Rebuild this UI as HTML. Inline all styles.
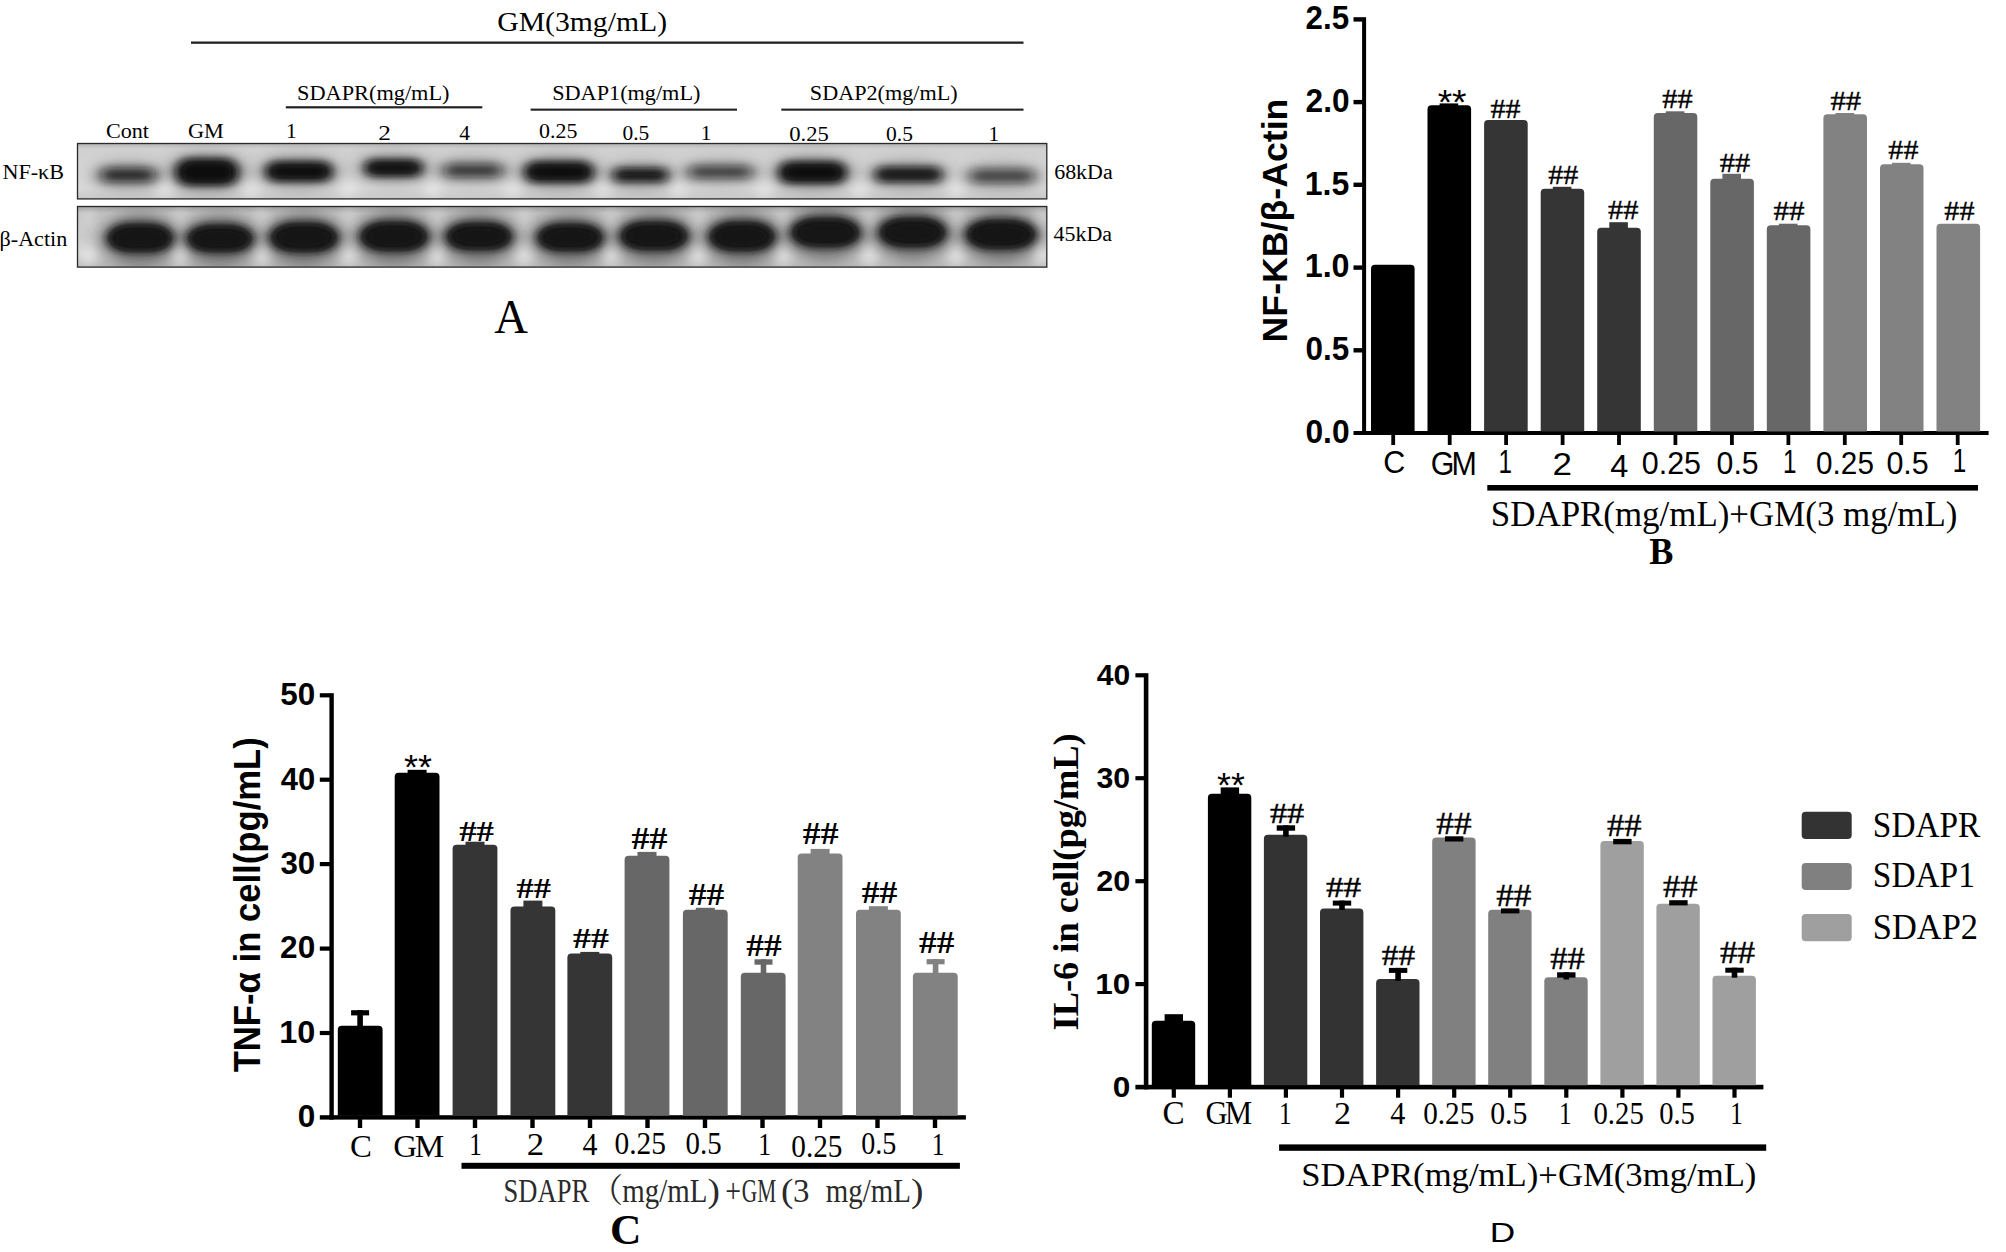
<!DOCTYPE html>
<html lang="en"><head><meta charset="utf-8"><title>Figure</title>
<style>
html,body{margin:0;padding:0;background:#fff;}
body{width:2006px;height:1252px;overflow:hidden;}
svg{display:block;}
text{white-space:pre;font-kerning:none;}
</style></head><body>
<svg width="2006" height="1252" viewBox="0 0 2006 1252">
<rect width="2006" height="1252" fill="#fff"/>
<g id="panelA">
<text transform="translate(497.21 31.20) scale(1.0760 1)" font-size="27.60" font-family='"Liberation Serif", "Times New Roman", serif'>GM(3mg/mL)</text>
<rect x="191.0" y="41.5" width="832.5" height="2.3" fill="#222"/>
<text transform="translate(296.99 100.20) scale(1.0483 1)" font-size="21.30" font-family='"Liberation Serif", "Times New Roman", serif'>SDAPR(mg/mL)</text>
<rect x="285.8" y="106.2" width="196.5" height="2.2" fill="#222"/>
<text transform="translate(552.20 100.20) scale(1.0439 1)" font-size="21.30" font-family='"Liberation Serif", "Times New Roman", serif'>SDAP1(mg/mL)</text>
<rect x="530.6" y="108.6" width="206.4" height="2.1" fill="#222"/>
<text transform="translate(809.80 100.20) scale(1.0410 1)" font-size="21.30" font-family='"Liberation Serif", "Times New Roman", serif'>SDAP2(mg/mL)</text>
<rect x="781.3" y="108.6" width="242.2" height="2.1" fill="#222"/>
<text transform="translate(105.92 138.20) scale(1.0378 1)" font-size="21.30" font-family='"Liberation Serif", "Times New Roman", serif'>Cont</text>
<text transform="translate(188.01 138.30) scale(1.0440 1)" font-size="21.30" font-family='"Liberation Serif", "Times New Roman", serif'>GM</text>
<text x="285.88" y="138.00" font-size="21.30" font-family='"Liberation Serif", "Times New Roman", serif'>1</text>
<text transform="translate(378.22 140.00) scale(1.1897 1)" font-size="21.30" font-family='"Liberation Serif", "Times New Roman", serif'>2</text>
<text transform="translate(459.37 140.00) scale(1.0096 1)" font-size="21.30" font-family='"Liberation Serif", "Times New Roman", serif'>4</text>
<text transform="translate(539.08 138.20) scale(1.0302 1)" font-size="21.30" font-family='"Liberation Serif", "Times New Roman", serif'>0.25</text>
<text transform="translate(622.49 140.20) scale(1.0090 1)" font-size="21.30" font-family='"Liberation Serif", "Times New Roman", serif'>0.5</text>
<text x="700.78" y="140.00" font-size="21.30" font-family='"Liberation Serif", "Times New Roman", serif'>1</text>
<text transform="translate(789.15 141.20) scale(1.0639 1)" font-size="21.30" font-family='"Liberation Serif", "Times New Roman", serif'>0.25</text>
<text transform="translate(886.09 141.20) scale(1.0090 1)" font-size="21.30" font-family='"Liberation Serif", "Times New Roman", serif'>0.5</text>
<text x="988.48" y="141.40" font-size="21.30" font-family='"Liberation Serif", "Times New Roman", serif'>1</text>
<text transform="translate(2.39 178.90) scale(1.0396 1)" font-size="21.30" font-family='"Liberation Serif", "Times New Roman", serif'>NF-κB</text>
<text transform="translate(-0.44 245.80) scale(1.0374 1)" font-size="21.30" font-family='"Liberation Serif", "Times New Roman", serif'>β-Actin</text>
<text transform="translate(1054.17 179.30) scale(1.0164 1)" font-size="21.60" font-family='"Liberation Serif", "Times New Roman", serif'>68kDa</text>
<text transform="translate(1053.46 241.20) scale(1.0183 1)" font-size="21.60" font-family='"Liberation Serif", "Times New Roman", serif'>45kDa</text>
<text transform="translate(494.33 332.60) scale(0.9722 1)" font-size="48.00" font-family='"Liberation Serif", "Times New Roman", serif'>A</text>
<defs><filter id="b1" x="-30%" y="-100%" width="160%" height="300%"><feGaussianBlur stdDeviation="6 4.2"/></filter><filter id="b1s" x="-30%" y="-100%" width="160%" height="300%"><feGaussianBlur stdDeviation="7 4.6"/></filter><filter id="b2" x="-30%" y="-60%" width="160%" height="220%"><feGaussianBlur stdDeviation="4.5 3.6"/></filter><filter id="b3" x="-40%" y="-120%" width="180%" height="340%"><feGaussianBlur stdDeviation="9 7"/></filter><filter id="b4" x="-100%" y="-60%" width="300%" height="220%"><feGaussianBlur stdDeviation="6 7"/></filter><clipPath id="c1"><rect x="77.5" y="143.5" width="969" height="55.2"/></clipPath><clipPath id="c2"><rect x="77.5" y="206.5" width="969" height="60.3"/></clipPath><linearGradient id="bg1" x1="0" x2="0" y1="0" y2="1"><stop offset="0" stop-color="#b0b0b0"/><stop offset="0.1" stop-color="#d0d0d0"/><stop offset="0.8" stop-color="#dadada"/><stop offset="1" stop-color="#c8c8c8"/></linearGradient><linearGradient id="bg2" x1="0" x2="0" y1="0" y2="1"><stop offset="0" stop-color="#9c9c9c"/><stop offset="0.12" stop-color="#c4c4c4"/><stop offset="0.8" stop-color="#d2d2d2"/><stop offset="1" stop-color="#b8b8b8"/></linearGradient></defs>
<rect x="77" y="143" width="970" height="56.2" fill="url(#bg1)"/>
<g clip-path="url(#c1)">
<ellipse cx="128.0" cy="176.0" rx="37.0" ry="15.0" fill="#4a4a4a" opacity="0.32" filter="url(#b3)"/>
<ellipse cx="207.0" cy="173.0" rx="41.0" ry="21.0" fill="#4a4a4a" opacity="0.40" filter="url(#b3)"/>
<ellipse cx="299.0" cy="172.5" rx="43.0" ry="17.5" fill="#4a4a4a" opacity="0.39" filter="url(#b3)"/>
<ellipse cx="393.5" cy="169.0" rx="38.5" ry="16.0" fill="#4a4a4a" opacity="0.37" filter="url(#b3)"/>
<ellipse cx="473.0" cy="171.5" rx="39.0" ry="14.5" fill="#4a4a4a" opacity="0.29" filter="url(#b3)"/>
<ellipse cx="559.0" cy="173.0" rx="44.0" ry="18.0" fill="#4a4a4a" opacity="0.39" filter="url(#b3)"/>
<ellipse cx="640.5" cy="176.0" rx="37.5" ry="15.0" fill="#4a4a4a" opacity="0.34" filter="url(#b3)"/>
<ellipse cx="720.5" cy="173.0" rx="41.5" ry="14.0" fill="#4a4a4a" opacity="0.28" filter="url(#b3)"/>
<ellipse cx="812.5" cy="173.5" rx="43.5" ry="18.5" fill="#4a4a4a" opacity="0.38" filter="url(#b3)"/>
<ellipse cx="908.5" cy="175.5" rx="43.5" ry="15.5" fill="#4a4a4a" opacity="0.34" filter="url(#b3)"/>
<ellipse cx="1002.0" cy="177.0" rx="42.0" ry="15.0" fill="#4a4a4a" opacity="0.26" filter="url(#b3)"/>
<ellipse cx="165" cy="190" rx="8" ry="7" fill="#f4f4f4" opacity="0.7" filter="url(#b4)"/>
<ellipse cx="251" cy="190" rx="8" ry="7" fill="#f4f4f4" opacity="0.7" filter="url(#b4)"/>
<ellipse cx="348" cy="190" rx="8" ry="7" fill="#f4f4f4" opacity="0.7" filter="url(#b4)"/>
<ellipse cx="433" cy="190" rx="8" ry="7" fill="#f4f4f4" opacity="0.7" filter="url(#b4)"/>
<ellipse cx="513" cy="190" rx="8" ry="7" fill="#f4f4f4" opacity="0.7" filter="url(#b4)"/>
<ellipse cx="603" cy="190" rx="8" ry="7" fill="#f4f4f4" opacity="0.7" filter="url(#b4)"/>
<ellipse cx="678" cy="190" rx="8" ry="7" fill="#f4f4f4" opacity="0.7" filter="url(#b4)"/>
<ellipse cx="765" cy="190" rx="8" ry="7" fill="#f4f4f4" opacity="0.7" filter="url(#b4)"/>
<ellipse cx="860" cy="190" rx="8" ry="7" fill="#f4f4f4" opacity="0.7" filter="url(#b4)"/>
<ellipse cx="956" cy="190" rx="8" ry="7" fill="#f4f4f4" opacity="0.7" filter="url(#b4)"/>
<rect x="100.5" y="168.0" width="55.0" height="14.0" rx="7.0" fill="#0a0a0a" opacity="0.86" filter="url(#b1s)"/>
<rect x="175.5" y="159.0" width="63.0" height="26.0" rx="13.0" fill="#0a0a0a" opacity="1.00" filter="url(#b1)"/>
<rect x="182.0" y="163.0" width="50.0" height="18.0" rx="9.0" fill="#0a0a0a" opacity="0.9" filter="url(#b1)"/>
<rect x="265.5" y="162.0" width="67.0" height="19.0" rx="9.5" fill="#0a0a0a" opacity="1.00" filter="url(#b1)"/>
<rect x="272.0" y="166.0" width="54.0" height="11.0" rx="5.5" fill="#0a0a0a" opacity="0.9" filter="url(#b1)"/>
<rect x="364.5" y="160.0" width="58.0" height="16.0" rx="8.0" fill="#0a0a0a" opacity="1.00" filter="url(#b1)"/>
<rect x="371.0" y="164.0" width="45.0" height="8.0" rx="4.0" fill="#0a0a0a" opacity="0.9" filter="url(#b1)"/>
<rect x="443.5" y="164.0" width="59.0" height="13.0" rx="6.5" fill="#0a0a0a" opacity="0.78" filter="url(#b1s)"/>
<rect x="524.5" y="162.0" width="69.0" height="20.0" rx="10.0" fill="#0a0a0a" opacity="1.00" filter="url(#b1)"/>
<rect x="531.0" y="166.0" width="56.0" height="12.0" rx="6.0" fill="#0a0a0a" opacity="0.9" filter="url(#b1)"/>
<rect x="612.5" y="168.0" width="56.0" height="14.0" rx="7.0" fill="#0a0a0a" opacity="0.93" filter="url(#b1)"/>
<rect x="620.0" y="172.0" width="41.0" height="6.0" rx="3.0" fill="#0a0a0a" opacity="0.45" filter="url(#b1)"/>
<rect x="688.5" y="166.0" width="64.0" height="12.0" rx="6.0" fill="#0a0a0a" opacity="0.76" filter="url(#b1s)"/>
<rect x="778.5" y="162.0" width="68.0" height="21.0" rx="10.5" fill="#0a0a0a" opacity="1.00" filter="url(#b1)"/>
<rect x="785.0" y="166.0" width="55.0" height="13.0" rx="6.5" fill="#0a0a0a" opacity="0.9" filter="url(#b1)"/>
<rect x="874.5" y="167.0" width="68.0" height="15.0" rx="7.5" fill="#0a0a0a" opacity="0.93" filter="url(#b1)"/>
<rect x="882.0" y="171.0" width="53.0" height="7.0" rx="3.5" fill="#0a0a0a" opacity="0.45" filter="url(#b1)"/>
<rect x="969.5" y="169.0" width="65.0" height="14.0" rx="7.0" fill="#0a0a0a" opacity="0.69" filter="url(#b1s)"/>
</g>
<rect x="77.5" y="143.5" width="969.3" height="55.4" fill="none" stroke="#2a2a2a" stroke-width="1.3"/>
<rect x="77" y="206" width="970" height="61.3" fill="url(#bg2)"/>
<g clip-path="url(#c2)">
<ellipse cx="140.0" cy="240.0" rx="40.0" ry="26.0" fill="#303030" opacity="0.6" filter="url(#b3)"/>
<ellipse cx="220.0" cy="240.5" rx="40.0" ry="25.5" fill="#303030" opacity="0.6" filter="url(#b3)"/>
<ellipse cx="304.0" cy="239.5" rx="41.0" ry="26.5" fill="#303030" opacity="0.6" filter="url(#b3)"/>
<ellipse cx="394.0" cy="238.5" rx="41.0" ry="26.5" fill="#303030" opacity="0.6" filter="url(#b3)"/>
<ellipse cx="479.0" cy="238.5" rx="40.0" ry="25.5" fill="#303030" opacity="0.6" filter="url(#b3)"/>
<ellipse cx="570.0" cy="239.5" rx="40.0" ry="25.5" fill="#303030" opacity="0.6" filter="url(#b3)"/>
<ellipse cx="654.0" cy="238.0" rx="41.0" ry="26.0" fill="#303030" opacity="0.6" filter="url(#b3)"/>
<ellipse cx="742.0" cy="238.5" rx="40.0" ry="26.5" fill="#303030" opacity="0.6" filter="url(#b3)"/>
<ellipse cx="825.5" cy="234.5" rx="41.5" ry="26.5" fill="#303030" opacity="0.6" filter="url(#b3)"/>
<ellipse cx="912.5" cy="234.5" rx="40.5" ry="26.5" fill="#303030" opacity="0.6" filter="url(#b3)"/>
<ellipse cx="1001.0" cy="236.5" rx="42.0" ry="26.5" fill="#303030" opacity="0.6" filter="url(#b3)"/>
<ellipse cx="88" cy="256" rx="5" ry="10" fill="#f6f6f6" opacity="0.9" filter="url(#b4)"/>
<ellipse cx="88" cy="218" rx="4" ry="8" fill="#f6f6f6" opacity="0.6" filter="url(#b4)"/>
<ellipse cx="180" cy="256" rx="5" ry="10" fill="#f6f6f6" opacity="0.9" filter="url(#b4)"/>
<ellipse cx="180" cy="218" rx="4" ry="8" fill="#f6f6f6" opacity="0.6" filter="url(#b4)"/>
<ellipse cx="262" cy="256" rx="5" ry="10" fill="#f6f6f6" opacity="0.9" filter="url(#b4)"/>
<ellipse cx="262" cy="218" rx="4" ry="8" fill="#f6f6f6" opacity="0.6" filter="url(#b4)"/>
<ellipse cx="349" cy="256" rx="5" ry="10" fill="#f6f6f6" opacity="0.9" filter="url(#b4)"/>
<ellipse cx="349" cy="218" rx="4" ry="8" fill="#f6f6f6" opacity="0.6" filter="url(#b4)"/>
<ellipse cx="437" cy="256" rx="5" ry="10" fill="#f6f6f6" opacity="0.9" filter="url(#b4)"/>
<ellipse cx="437" cy="218" rx="4" ry="8" fill="#f6f6f6" opacity="0.6" filter="url(#b4)"/>
<ellipse cx="524" cy="256" rx="5" ry="10" fill="#f6f6f6" opacity="0.9" filter="url(#b4)"/>
<ellipse cx="524" cy="218" rx="4" ry="8" fill="#f6f6f6" opacity="0.6" filter="url(#b4)"/>
<ellipse cx="611" cy="256" rx="5" ry="10" fill="#f6f6f6" opacity="0.9" filter="url(#b4)"/>
<ellipse cx="611" cy="218" rx="4" ry="8" fill="#f6f6f6" opacity="0.6" filter="url(#b4)"/>
<ellipse cx="698" cy="256" rx="5" ry="10" fill="#f6f6f6" opacity="0.9" filter="url(#b4)"/>
<ellipse cx="698" cy="218" rx="4" ry="8" fill="#f6f6f6" opacity="0.6" filter="url(#b4)"/>
<ellipse cx="783" cy="256" rx="5" ry="10" fill="#f6f6f6" opacity="0.9" filter="url(#b4)"/>
<ellipse cx="783" cy="218" rx="4" ry="8" fill="#f6f6f6" opacity="0.6" filter="url(#b4)"/>
<ellipse cx="869" cy="256" rx="5" ry="10" fill="#f6f6f6" opacity="0.9" filter="url(#b4)"/>
<ellipse cx="869" cy="218" rx="4" ry="8" fill="#f6f6f6" opacity="0.6" filter="url(#b4)"/>
<ellipse cx="956" cy="256" rx="5" ry="10" fill="#f6f6f6" opacity="0.9" filter="url(#b4)"/>
<ellipse cx="956" cy="218" rx="4" ry="8" fill="#f6f6f6" opacity="0.6" filter="url(#b4)"/>
<ellipse cx="1042" cy="256" rx="5" ry="10" fill="#f6f6f6" opacity="0.9" filter="url(#b4)"/>
<ellipse cx="1042" cy="218" rx="4" ry="8" fill="#f6f6f6" opacity="0.6" filter="url(#b4)"/>
<rect x="106.5" y="223.5" width="67.0" height="29.0" rx="24.1" ry="14.5" fill="#121212" filter="url(#b2)"/>
<rect x="112.5" y="227.5" width="55.0" height="21.0" rx="19.8" ry="10.5" fill="#121212" opacity="0.85" filter="url(#b2)"/>
<rect x="186.5" y="224.5" width="67.0" height="28.0" rx="24.1" ry="14.0" fill="#121212" filter="url(#b2)"/>
<rect x="192.5" y="228.5" width="55.0" height="20.0" rx="19.8" ry="10.0" fill="#121212" opacity="0.85" filter="url(#b2)"/>
<rect x="269.5" y="222.5" width="69.0" height="30.0" rx="24.8" ry="15.0" fill="#121212" filter="url(#b2)"/>
<rect x="275.5" y="226.5" width="57.0" height="22.0" rx="20.5" ry="11.0" fill="#121212" opacity="0.85" filter="url(#b2)"/>
<rect x="359.5" y="221.5" width="69.0" height="30.0" rx="24.8" ry="15.0" fill="#121212" filter="url(#b2)"/>
<rect x="365.5" y="225.5" width="57.0" height="22.0" rx="20.5" ry="11.0" fill="#121212" opacity="0.85" filter="url(#b2)"/>
<rect x="445.5" y="222.5" width="67.0" height="28.0" rx="24.1" ry="14.0" fill="#121212" filter="url(#b2)"/>
<rect x="451.5" y="226.5" width="55.0" height="20.0" rx="19.8" ry="10.0" fill="#121212" opacity="0.85" filter="url(#b2)"/>
<rect x="536.5" y="223.5" width="67.0" height="28.0" rx="24.1" ry="14.0" fill="#121212" filter="url(#b2)"/>
<rect x="542.5" y="227.5" width="55.0" height="20.0" rx="19.8" ry="10.0" fill="#121212" opacity="0.85" filter="url(#b2)"/>
<rect x="619.5" y="221.5" width="69.0" height="29.0" rx="24.8" ry="14.5" fill="#121212" filter="url(#b2)"/>
<rect x="625.5" y="225.5" width="57.0" height="21.0" rx="20.5" ry="10.5" fill="#121212" opacity="0.85" filter="url(#b2)"/>
<rect x="708.5" y="221.5" width="67.0" height="30.0" rx="24.1" ry="15.0" fill="#121212" filter="url(#b2)"/>
<rect x="714.5" y="225.5" width="55.0" height="22.0" rx="19.8" ry="11.0" fill="#121212" opacity="0.85" filter="url(#b2)"/>
<rect x="790.5" y="217.5" width="70.0" height="30.0" rx="25.2" ry="15.0" fill="#121212" filter="url(#b2)"/>
<rect x="796.5" y="221.5" width="58.0" height="22.0" rx="20.9" ry="11.0" fill="#121212" opacity="0.85" filter="url(#b2)"/>
<rect x="878.5" y="217.5" width="68.0" height="30.0" rx="24.5" ry="15.0" fill="#121212" filter="url(#b2)"/>
<rect x="884.5" y="221.5" width="56.0" height="22.0" rx="20.2" ry="11.0" fill="#121212" opacity="0.85" filter="url(#b2)"/>
<rect x="965.5" y="219.5" width="71.0" height="30.0" rx="25.6" ry="15.0" fill="#121212" filter="url(#b2)"/>
<rect x="971.5" y="223.5" width="59.0" height="22.0" rx="21.2" ry="11.0" fill="#121212" opacity="0.85" filter="url(#b2)"/>
</g>
<rect x="77.5" y="206.5" width="969.3" height="60.6" fill="none" stroke="#2a2a2a" stroke-width="1.3"/>
</g>
<g id="panelB">
<rect x="1362.1" y="17.2" width="4.0" height="417.8" fill="#000"/>
<rect x="1353.5" y="431.0" width="635.1" height="4.0" fill="#000"/>
<text transform="translate(1305.43 442.67) scale(0.9643 1)" font-size="32.93" font-family='"Liberation Sans", Arial, sans-serif' font-weight="bold">0.0</text>
<rect x="1353.5" y="348.1" width="9.0" height="4.4" fill="#000"/>
<text transform="translate(1305.44 359.95) scale(0.9551 1)" font-size="32.93" font-family='"Liberation Sans", Arial, sans-serif' font-weight="bold">0.5</text>
<rect x="1353.5" y="265.4" width="9.0" height="4.4" fill="#000"/>
<text transform="translate(1304.68 277.23) scale(0.9811 1)" font-size="32.93" font-family='"Liberation Sans", Arial, sans-serif' font-weight="bold">1.0</text>
<rect x="1353.5" y="182.6" width="9.0" height="4.4" fill="#000"/>
<text transform="translate(1304.70 194.51) scale(0.9579 1)" font-size="33.41" font-family='"Liberation Sans", Arial, sans-serif' font-weight="bold">1.5</text>
<rect x="1353.5" y="99.9" width="9.0" height="4.4" fill="#000"/>
<text transform="translate(1305.59 111.79) scale(0.9606 1)" font-size="32.93" font-family='"Liberation Sans", Arial, sans-serif' font-weight="bold">2.0</text>
<rect x="1353.5" y="17.2" width="9.0" height="4.4" fill="#000"/>
<text transform="translate(1305.60 29.07) scale(0.9515 1)" font-size="32.93" font-family='"Liberation Sans", Arial, sans-serif' font-weight="bold">2.5</text>
<text transform="translate(1286.80 342.41) rotate(-90) scale(1.0029 1)" font-size="35.60" font-family='"Liberation Sans", Arial, sans-serif' font-weight="bold">NF-KB/β-Actin</text>
<path d="M1371.0 431.5V268.7Q1371.0 264.7 1375.0 264.7H1410.6Q1414.6 264.7 1414.6 268.7V431.5Z" fill="#000"/>
<rect x="1391.3" y="434.5" width="3.8" height="10.5" fill="#000"/>
<path d="M1427.5 431.5V109.2Q1427.5 105.2 1431.5 105.2H1467.1Q1471.1 105.2 1471.1 109.2V431.5Z" fill="#000"/>
<rect x="1439.6" y="103.4" width="18.6" height="2.8" fill="#000"/>
<rect x="1447.8" y="434.5" width="3.8" height="10.5" fill="#000"/>
<path d="M1484.1 431.5V123.9Q1484.1 119.9 1488.1 119.9H1523.7Q1527.7 119.9 1527.7 123.9V431.5Z" fill="#353535"/>
<rect x="1504.2" y="434.5" width="3.8" height="10.5" fill="#000"/>
<text transform="translate(1490.48 118.10) scale(1.1020 1)" font-size="27.18" font-family='"Liberation Serif", "Times New Roman", serif' stroke="#000" stroke-width="0.35">##</text>
<path d="M1540.7 431.5V192.8Q1540.7 188.8 1544.7 188.8H1580.2Q1584.2 188.8 1584.2 192.8V431.5Z" fill="#353535"/>
<rect x="1552.8" y="186.8" width="18.6" height="3.0" fill="#353535"/>
<rect x="1560.7" y="434.5" width="3.8" height="10.5" fill="#000"/>
<text transform="translate(1548.17 184.00) scale(1.0875 1)" font-size="27.63" font-family='"Liberation Serif", "Times New Roman", serif' stroke="#000" stroke-width="0.35">##</text>
<path d="M1597.2 431.5V231.7Q1597.2 227.7 1601.2 227.7H1636.8Q1640.8 227.7 1640.8 231.7V431.5Z" fill="#353535"/>
<rect x="1609.3" y="222.2" width="18.6" height="6.5" fill="#353535"/>
<rect x="1617.1" y="434.5" width="3.8" height="10.5" fill="#000"/>
<text transform="translate(1608.07 219.40) scale(1.1025 1)" font-size="27.63" font-family='"Liberation Serif", "Times New Roman", serif' stroke="#000" stroke-width="0.35">##</text>
<path d="M1653.8 431.5V116.9Q1653.8 112.9 1657.8 112.9H1693.3Q1697.3 112.9 1697.3 116.9V431.5Z" fill="#676767"/>
<rect x="1665.8" y="111.3" width="18.6" height="2.6" fill="#676767"/>
<rect x="1673.5" y="434.5" width="3.8" height="10.5" fill="#000"/>
<text transform="translate(1662.37 107.90) scale(1.1110 1)" font-size="27.33" font-family='"Liberation Serif", "Times New Roman", serif' stroke="#000" stroke-width="0.35">##</text>
<path d="M1710.3 431.5V182.8Q1710.3 178.8 1714.3 178.8H1749.9Q1753.9 178.8 1753.9 182.8V431.5Z" fill="#676767"/>
<rect x="1722.4" y="173.8" width="18.6" height="6.0" fill="#676767"/>
<rect x="1730.0" y="434.5" width="3.8" height="10.5" fill="#000"/>
<text transform="translate(1719.87 172.20) scale(1.0965 1)" font-size="27.79" font-family='"Liberation Serif", "Times New Roman", serif' stroke="#000" stroke-width="0.35">##</text>
<path d="M1766.8 431.5V229.3Q1766.8 225.3 1770.8 225.3H1806.4Q1810.4 225.3 1810.4 229.3V431.5Z" fill="#676767"/>
<rect x="1778.9" y="223.7" width="18.6" height="2.6" fill="#676767"/>
<rect x="1786.5" y="434.5" width="3.8" height="10.5" fill="#000"/>
<text transform="translate(1773.56 219.70) scale(1.1188 1)" font-size="27.79" font-family='"Liberation Serif", "Times New Roman", serif' stroke="#000" stroke-width="0.35">##</text>
<path d="M1823.4 431.5V118.3Q1823.4 114.3 1827.4 114.3H1863.0Q1867.0 114.3 1867.0 118.3V431.5Z" fill="#828282"/>
<rect x="1835.5" y="113.0" width="18.6" height="2.3" fill="#828282"/>
<rect x="1842.9" y="434.5" width="3.8" height="10.5" fill="#000"/>
<text transform="translate(1830.46 109.90) scale(1.0919 1)" font-size="28.09" font-family='"Liberation Serif", "Times New Roman", serif' stroke="#000" stroke-width="0.35">##</text>
<path d="M1880.0 431.5V168.2Q1880.0 164.2 1884.0 164.2H1919.5Q1923.5 164.2 1923.5 168.2V431.5Z" fill="#828282"/>
<rect x="1892.0" y="162.8" width="18.6" height="2.4" fill="#828282"/>
<rect x="1899.3" y="434.5" width="3.8" height="10.5" fill="#000"/>
<text transform="translate(1888.37 159.40) scale(1.0698 1)" font-size="28.09" font-family='"Liberation Serif", "Times New Roman", serif' stroke="#000" stroke-width="0.35">##</text>
<path d="M1936.5 431.5V227.7Q1936.5 223.7 1940.5 223.7H1976.1Q1980.1 223.7 1980.1 227.7V431.5Z" fill="#828282"/>
<rect x="1955.8" y="434.5" width="3.8" height="10.5" fill="#000"/>
<text transform="translate(1944.37 219.70) scale(1.0853 1)" font-size="27.79" font-family='"Liberation Serif", "Times New Roman", serif' stroke="#000" stroke-width="0.35">##</text>
<text transform="translate(1437.65 114.06) scale(1.0580 1)" font-size="35.14" font-family='"Liberation Sans", Arial, sans-serif'>**</text>
<text transform="translate(1383.37 472.58) scale(0.9607 1)" font-size="31.80" font-family='"Liberation Sans", Arial, sans-serif'>C</text>
<text transform="translate(1430.78 474.57) scale(0.9158 1)" font-size="33.22" font-family='"Liberation Sans", Arial, sans-serif' letter-spacing="-3.32">GM</text>
<text transform="translate(1498.38 473.10) scale(0.7518 1)" font-size="32.29" font-family='"Liberation Sans", Arial, sans-serif'>1</text>
<text transform="translate(1552.55 474.60) scale(1.1284 1)" font-size="30.97" font-family='"Liberation Sans", Arial, sans-serif'>2</text>
<text transform="translate(1610.17 477.10) scale(1.0289 1)" font-size="31.56" font-family='"Liberation Sans", Arial, sans-serif'>4</text>
<text transform="translate(1641.78 474.28) scale(0.9577 1)" font-size="31.80" font-family='"Liberation Sans", Arial, sans-serif'>0.25</text>
<text transform="translate(1716.59 474.28) scale(0.9505 1)" font-size="31.80" font-family='"Liberation Sans", Arial, sans-serif'>0.5</text>
<text transform="translate(1783.08 473.10) scale(0.7518 1)" font-size="32.29" font-family='"Liberation Sans", Arial, sans-serif'>1</text>
<text transform="translate(1816.11 474.08) scale(0.9382 1)" font-size="31.66" font-family='"Liberation Sans", Arial, sans-serif'>0.25</text>
<text transform="translate(1886.38 474.08) scale(0.9620 1)" font-size="31.66" font-family='"Liberation Sans", Arial, sans-serif'>0.5</text>
<text transform="translate(1952.78 471.90) scale(0.7518 1)" font-size="32.29" font-family='"Liberation Sans", Arial, sans-serif'>1</text>
<rect x="1487.3" y="485.0" width="490.7" height="5.6" fill="#000"/>
<text transform="translate(1490.84 525.50) scale(0.9804 1)" font-size="35.60" font-family='"Liberation Serif", "Times New Roman", serif'>SDAPR(mg/mL)+GM(3 mg/mL)</text>
<text transform="translate(1649.37 564.00) scale(0.9639 1)" font-size="37.50" font-family='"Liberation Serif", "Times New Roman", serif' font-weight="bold">B</text>
</g>
<g id="panelC">
<rect x="329.4" y="693.2" width="4.4" height="426.4" fill="#000"/>
<rect x="319.8" y="1115.2" width="646.1" height="4.4" fill="#000"/>
<text transform="translate(297.64 1127.29) scale(1.0064 1)" font-size="31.38" font-family='"Liberation Sans", Arial, sans-serif' font-weight="bold">0</text>
<rect x="319.8" y="1030.9" width="10.2" height="4.2" fill="#000"/>
<text transform="translate(279.17 1042.87) scale(1.0344 1)" font-size="31.38" font-family='"Liberation Sans", Arial, sans-serif' font-weight="bold">10</text>
<rect x="319.8" y="946.5" width="10.2" height="4.2" fill="#000"/>
<text transform="translate(280.09 958.45) scale(1.0069 1)" font-size="31.38" font-family='"Liberation Sans", Arial, sans-serif' font-weight="bold">20</text>
<rect x="319.8" y="862.0" width="10.2" height="4.2" fill="#000"/>
<text transform="translate(280.50 873.95) scale(0.9984 1)" font-size="31.27" font-family='"Liberation Sans", Arial, sans-serif' font-weight="bold">30</text>
<rect x="319.8" y="777.6" width="10.2" height="4.2" fill="#000"/>
<text transform="translate(280.74 789.61) scale(0.9878 1)" font-size="31.38" font-family='"Liberation Sans", Arial, sans-serif' font-weight="bold">40</text>
<rect x="319.8" y="693.2" width="10.2" height="4.2" fill="#000"/>
<text transform="translate(280.26 705.19) scale(1.0020 1)" font-size="31.38" font-family='"Liberation Sans", Arial, sans-serif' font-weight="bold">50</text>
<text transform="translate(260.40 1072.35) rotate(-90) scale(0.9371 1)" font-size="37.00" font-family='"Liberation Sans", Arial, sans-serif' font-weight="bold">TNF-α in cell(pg/mL)</text>
<path d="M337.8 1115.7V1029.8Q337.8 1025.8 341.8 1025.8H378.6Q382.6 1025.8 382.6 1029.8V1115.7Z" fill="#000"/>
<rect x="357.8" y="1119.1" width="4.4" height="8.9" fill="#000"/>
<path d="M394.7 1115.7V776.8Q394.7 772.8 398.7 772.8H435.5Q439.5 772.8 439.5 776.8V1115.7Z" fill="#000"/>
<rect x="407.6" y="769.8" width="19.0" height="4.0" fill="#000"/>
<rect x="415.3" y="1119.1" width="4.4" height="8.9" fill="#000"/>
<path d="M452.6 1115.7V848.7Q452.6 844.7 456.6 844.7H493.4Q497.4 844.7 497.4 848.7V1115.7Z" fill="#353535"/>
<rect x="465.5" y="841.7" width="19.0" height="4.0" fill="#353535"/>
<rect x="472.8" y="1119.1" width="4.4" height="8.9" fill="#000"/>
<text transform="translate(459.16 840.70) scale(1.1478 1)" font-size="30.38" font-family='"Liberation Serif", "Times New Roman", serif' font-weight="bold">##</text>
<path d="M510.5 1115.7V910.5Q510.5 906.5 514.5 906.5H551.3Q555.3 906.5 555.3 910.5V1115.7Z" fill="#353535"/>
<rect x="523.4" y="900.6" width="19.0" height="6.9" fill="#353535"/>
<rect x="530.3" y="1119.1" width="4.4" height="8.9" fill="#000"/>
<text transform="translate(516.47 897.60) scale(1.1343 1)" font-size="30.38" font-family='"Liberation Serif", "Times New Roman", serif' font-weight="bold">##</text>
<path d="M567.4 1115.7V957.4Q567.4 953.4 571.4 953.4H608.2Q612.2 953.4 612.2 957.4V1115.7Z" fill="#353535"/>
<rect x="580.3" y="951.9" width="19.0" height="2.5" fill="#353535"/>
<rect x="587.8" y="1119.1" width="4.4" height="8.9" fill="#000"/>
<text transform="translate(572.95 947.90) scale(1.2441 1)" font-size="28.85" font-family='"Liberation Serif", "Times New Roman", serif' font-weight="bold">##</text>
<path d="M624.6 1115.7V859.8Q624.6 855.8 628.6 855.8H665.4Q669.4 855.8 669.4 859.8V1115.7Z" fill="#676767"/>
<rect x="637.5" y="851.9" width="19.0" height="4.9" fill="#676767"/>
<rect x="645.3" y="1119.1" width="4.4" height="8.9" fill="#000"/>
<text transform="translate(631.55 848.90) scale(1.1723 1)" font-size="30.53" font-family='"Liberation Serif", "Times New Roman", serif' font-weight="bold">##</text>
<path d="M682.9 1115.7V913.8Q682.9 909.8 686.9 909.8H723.7Q727.7 909.8 727.7 913.8V1115.7Z" fill="#676767"/>
<rect x="695.8" y="907.8" width="19.0" height="3.0" fill="#676767"/>
<rect x="702.8" y="1119.1" width="4.4" height="8.9" fill="#000"/>
<text transform="translate(688.86 905.40) scale(1.1588 1)" font-size="30.53" font-family='"Liberation Serif", "Times New Roman", serif' font-weight="bold">##</text>
<path d="M740.8 1115.7V976.7Q740.8 972.7 744.8 972.7H781.6Q785.6 972.7 785.6 976.7V1115.7Z" fill="#676767"/>
<rect x="760.3" y="1119.1" width="4.4" height="8.9" fill="#000"/>
<text transform="translate(746.36 955.70) scale(1.1588 1)" font-size="30.53" font-family='"Liberation Serif", "Times New Roman", serif' font-weight="bold">##</text>
<path d="M797.7 1115.7V857.5Q797.7 853.5 801.7 853.5H838.5Q842.5 853.5 842.5 857.5V1115.7Z" fill="#828282"/>
<rect x="810.6" y="848.9" width="19.0" height="5.6" fill="#828282"/>
<rect x="817.8" y="1119.1" width="4.4" height="8.9" fill="#000"/>
<text transform="translate(802.86 843.90) scale(1.1656 1)" font-size="30.53" font-family='"Liberation Serif", "Times New Roman", serif' font-weight="bold">##</text>
<path d="M856.0 1115.7V913.8Q856.0 909.8 860.0 909.8H896.8Q900.8 909.8 900.8 913.8V1115.7Z" fill="#828282"/>
<rect x="868.9" y="906.2" width="19.0" height="4.6" fill="#828282"/>
<rect x="875.3" y="1119.1" width="4.4" height="8.9" fill="#000"/>
<text transform="translate(861.76 902.80) scale(1.1656 1)" font-size="30.53" font-family='"Liberation Serif", "Times New Roman", serif' font-weight="bold">##</text>
<path d="M912.9 1115.7V976.7Q912.9 972.7 916.9 972.7H953.7Q957.7 972.7 957.7 976.7V1115.7Z" fill="#828282"/>
<rect x="932.8" y="1119.1" width="4.4" height="8.9" fill="#000"/>
<text transform="translate(919.06 953.30) scale(1.1521 1)" font-size="30.53" font-family='"Liberation Serif", "Times New Roman", serif' font-weight="bold">##</text>
<rect x="351.1" y="1010.2" width="18.0" height="5.2" fill="#000"/>
<rect x="357.3" y="1010.2" width="5.6" height="16.6" fill="#000"/>
<rect x="754.5" y="959.3" width="18.0" height="5.4" fill="#676767"/>
<rect x="760.7" y="959.3" width="5.6" height="14.4" fill="#676767"/>
<rect x="926.6" y="959.1" width="18.0" height="5.2" fill="#828282"/>
<rect x="932.8" y="959.1" width="5.6" height="14.6" fill="#828282"/>
<text transform="translate(404.07 779.36) scale(1.0320 1)" font-size="34.86" font-family='"Liberation Sans", Arial, sans-serif'>**</text>
<text transform="translate(350.09 1157.47) scale(1.0084 1)" font-size="32.57" font-family='"Liberation Serif", "Times New Roman", serif'>C</text>
<text transform="translate(393.37 1157.47) scale(1.0183 1)" font-size="32.57" font-family='"Liberation Serif", "Times New Roman", serif' letter-spacing="-2.61">GM</text>
<text transform="translate(469.29 1155.40) scale(0.7751 1)" font-size="32.58" font-family='"Liberation Serif", "Times New Roman", serif'>1</text>
<text transform="translate(526.82 1154.80) scale(1.0768 1)" font-size="32.30" font-family='"Liberation Serif", "Times New Roman", serif'>2</text>
<text transform="translate(582.60 1154.80) scale(0.9184 1)" font-size="32.55" font-family='"Liberation Serif", "Times New Roman", serif'>4</text>
<text transform="translate(614.50 1154.32) scale(0.9134 1)" font-size="32.21" font-family='"Liberation Serif", "Times New Roman", serif'>0.25</text>
<text transform="translate(685.62 1154.32) scale(0.8977 1)" font-size="32.21" font-family='"Liberation Serif", "Times New Roman", serif'>0.5</text>
<text transform="translate(758.27 1155.40) scale(0.7838 1)" font-size="32.58" font-family='"Liberation Serif", "Times New Roman", serif'>1</text>
<text transform="translate(791.30 1157.32) scale(0.9078 1)" font-size="32.21" font-family='"Liberation Serif", "Times New Roman", serif'>0.25</text>
<text transform="translate(861.15 1154.32) scale(0.8713 1)" font-size="32.21" font-family='"Liberation Serif", "Times New Roman", serif'>0.5</text>
<text transform="translate(931.77 1155.40) scale(0.7838 1)" font-size="32.58" font-family='"Liberation Serif", "Times New Roman", serif'>1</text>
<rect x="461.5" y="1162.8" width="498.4" height="6.0" fill="#000"/>
<text transform="translate(503.61 1201.60) scale(0.7690 1)" font-size="34.50" font-family='"Liberation Serif", "Times New Roman", serif' fill="#2a2a2a">SDAPR</text>
<text x="590" y="1201.6" font-size="33" fill="#2a2a2a" font-family='"Liberation Serif", "Noto Serif CJK SC", serif'>（</text>
<text transform="translate(622.32 1201.60) scale(0.8384 1)" font-size="34.50" font-family='"Liberation Serif", "Times New Roman", serif' fill="#2a2a2a">mg/mL</text>
<text transform="translate(707.59 1201.60) scale(1.0800 1)" font-size="34.50" font-family='"Liberation Serif", "Times New Roman", serif' fill="#2a2a2a">)</text>
<text transform="translate(725.20 1201.60) scale(0.8103 1)" font-size="34.50" font-family='"Liberation Serif", "Times New Roman", serif' fill="#2a2a2a">+</text>
<text transform="translate(741.75 1201.60) scale(0.6182 1)" font-size="34.50" font-family='"Liberation Serif", "Times New Roman", serif' fill="#2a2a2a">GM</text>
<text transform="translate(781.12 1201.60) scale(1.0800 1)" font-size="34.50" font-family='"Liberation Serif", "Times New Roman", serif' fill="#2a2a2a">(</text>
<text transform="translate(793.03 1201.60) scale(0.9556 1)" font-size="34.50" font-family='"Liberation Serif", "Times New Roman", serif' fill="#2a2a2a">3</text>
<text transform="translate(825.72 1201.60) scale(0.8384 1)" font-size="34.50" font-family='"Liberation Serif", "Times New Roman", serif' fill="#2a2a2a">mg/mL</text>
<text transform="translate(910.99 1201.60) scale(1.0800 1)" font-size="34.50" font-family='"Liberation Serif", "Times New Roman", serif' fill="#2a2a2a">)</text>
<text transform="translate(609.93 1244.38) scale(1.0304 1)" font-size="42.23" font-family='"Liberation Serif", "Times New Roman", serif' font-weight="bold">C</text>
</g>
<g id="panelD">
<rect x="1143.8" y="673.2" width="4.6" height="416.2" fill="#000"/>
<rect x="1135.4" y="1084.8" width="628.0" height="4.6" fill="#000"/>
<text transform="translate(1112.64 1096.70) scale(1.0539 1)" font-size="29.96" font-family='"Liberation Sans", Arial, sans-serif' font-weight="bold">0</text>
<rect x="1135.4" y="982.0" width="9.1" height="4.2" fill="#000"/>
<text transform="translate(1095.23 993.75) scale(1.0500 1)" font-size="29.96" font-family='"Liberation Sans", Arial, sans-serif' font-weight="bold">10</text>
<rect x="1135.4" y="879.1" width="9.1" height="4.2" fill="#000"/>
<text transform="translate(1096.13 890.80) scale(1.0221 1)" font-size="29.96" font-family='"Liberation Sans", Arial, sans-serif' font-weight="bold">20</text>
<rect x="1135.4" y="776.1" width="9.1" height="4.2" fill="#000"/>
<text transform="translate(1096.52 787.78) scale(1.0135 1)" font-size="29.86" font-family='"Liberation Sans", Arial, sans-serif' font-weight="bold">30</text>
<rect x="1135.4" y="673.2" width="9.1" height="4.2" fill="#000"/>
<text transform="translate(1096.75 684.90) scale(1.0028 1)" font-size="29.96" font-family='"Liberation Sans", Arial, sans-serif' font-weight="bold">40</text>
<text transform="translate(1077.90 1030.48) rotate(-90) scale(0.9943 1)" font-size="36.60" font-family='"Liberation Serif", "Times New Roman", serif' font-weight="bold">IL-6 in cell(pg/mL)</text>
<path d="M1151.8 1085.3V1024.8Q1151.8 1020.8 1155.8 1020.8H1191.2Q1195.2 1020.8 1195.2 1024.8V1085.3Z" fill="#000"/>
<rect x="1164.6" y="1014.2" width="18.4" height="6.8" fill="#000"/>
<rect x="1171.7" y="1088.9" width="4.2" height="8.8" fill="#000"/>
<path d="M1207.9 1085.3V797.8Q1207.9 793.8 1211.9 793.8H1247.3Q1251.3 793.8 1251.3 797.8V1085.3Z" fill="#000"/>
<rect x="1220.7" y="787.4" width="18.4" height="7.6" fill="#000"/>
<rect x="1227.8" y="1088.9" width="4.2" height="8.8" fill="#000"/>
<path d="M1263.9 1085.3V838.7Q1263.9 834.7 1267.9 834.7H1303.3Q1307.3 834.7 1307.3 838.7V1085.3Z" fill="#333333"/>
<rect x="1276.7" y="825.3" width="18.4" height="5.4" fill="#000"/>
<rect x="1283.1" y="825.3" width="5.6" height="11.4" fill="#000"/>
<rect x="1283.8" y="1088.9" width="4.2" height="8.8" fill="#000"/>
<text transform="translate(1270.00 822.70) scale(1.1851 1)" font-size="28.85" font-family='"Liberation Serif", "Times New Roman", serif' stroke="#000" stroke-width="0.4">##</text>
<path d="M1320.0 1085.3V912.4Q1320.0 908.4 1324.0 908.4H1359.4Q1363.4 908.4 1363.4 912.4V1085.3Z" fill="#333333"/>
<rect x="1332.8" y="900.6" width="18.4" height="5.0" fill="#000"/>
<rect x="1339.2" y="900.6" width="5.6" height="9.4" fill="#000"/>
<rect x="1339.9" y="1088.9" width="4.2" height="8.8" fill="#000"/>
<text transform="translate(1325.88 896.60) scale(1.2146 1)" font-size="29.01" font-family='"Liberation Serif", "Times New Roman", serif' stroke="#000" stroke-width="0.4">##</text>
<path d="M1376.1 1085.3V983.0Q1376.1 979.0 1380.1 979.0H1415.5Q1419.5 979.0 1419.5 983.0V1085.3Z" fill="#333333"/>
<rect x="1388.9" y="967.9" width="18.4" height="5.0" fill="#000"/>
<rect x="1395.3" y="967.9" width="5.6" height="12.9" fill="#000"/>
<rect x="1396.0" y="1088.9" width="4.2" height="8.8" fill="#000"/>
<text transform="translate(1381.82 964.90) scale(1.1432 1)" font-size="29.01" font-family='"Liberation Serif", "Times New Roman", serif' stroke="#000" stroke-width="0.4">##</text>
<path d="M1432.2 1085.3V841.5Q1432.2 837.5 1436.2 837.5H1471.6Q1475.6 837.5 1475.6 841.5V1085.3Z" fill="#808080"/>
<rect x="1445.0" y="836.3" width="18.4" height="5.2" fill="#000"/>
<rect x="1452.1" y="1088.9" width="4.2" height="8.8" fill="#000"/>
<text transform="translate(1436.28 833.50) scale(1.1539 1)" font-size="30.53" font-family='"Liberation Serif", "Times New Roman", serif' stroke="#000" stroke-width="0.4">##</text>
<path d="M1488.2 1085.3V913.8Q1488.2 909.8 1492.2 909.8H1527.6Q1531.6 909.8 1531.6 913.8V1085.3Z" fill="#808080"/>
<rect x="1501.0" y="908.4" width="18.4" height="5.0" fill="#000"/>
<rect x="1508.1" y="1088.9" width="4.2" height="8.8" fill="#000"/>
<text transform="translate(1496.18 905.80) scale(1.1539 1)" font-size="30.53" font-family='"Liberation Serif", "Times New Roman", serif' stroke="#000" stroke-width="0.4">##</text>
<path d="M1544.3 1085.3V981.3Q1544.3 977.3 1548.3 977.3H1583.7Q1587.7 977.3 1587.7 981.3V1085.3Z" fill="#808080"/>
<rect x="1557.1" y="972.3" width="18.4" height="5.4" fill="#000"/>
<rect x="1563.5" y="972.3" width="5.6" height="7.2" fill="#000"/>
<rect x="1564.2" y="1088.9" width="4.2" height="8.8" fill="#000"/>
<text transform="translate(1550.20 969.30) scale(1.0972 1)" font-size="31.45" font-family='"Liberation Serif", "Times New Roman", serif' stroke="#000" stroke-width="0.4">##</text>
<path d="M1600.4 1085.3V844.9Q1600.4 840.9 1604.4 840.9H1639.8Q1643.8 840.9 1643.8 844.9V1085.3Z" fill="#9f9f9f"/>
<rect x="1613.2" y="838.9" width="18.4" height="5.4" fill="#000"/>
<rect x="1620.3" y="1088.9" width="4.2" height="8.8" fill="#000"/>
<text transform="translate(1607.10 835.50) scale(1.1301 1)" font-size="30.53" font-family='"Liberation Serif", "Times New Roman", serif' stroke="#000" stroke-width="0.4">##</text>
<path d="M1656.4 1085.3V907.8Q1656.4 903.8 1660.4 903.8H1695.8Q1699.8 903.8 1699.8 907.8V1085.3Z" fill="#9f9f9f"/>
<rect x="1669.2" y="900.2" width="18.4" height="5.2" fill="#000"/>
<rect x="1676.3" y="1088.9" width="4.2" height="8.8" fill="#000"/>
<text transform="translate(1663.00 897.00) scale(1.0662 1)" font-size="32.37" font-family='"Liberation Serif", "Times New Roman", serif' stroke="#000" stroke-width="0.4">##</text>
<path d="M1712.5 1085.3V979.7Q1712.5 975.7 1716.5 975.7H1751.9Q1755.9 975.7 1755.9 979.7V1085.3Z" fill="#9f9f9f"/>
<rect x="1725.3" y="967.7" width="18.4" height="5.0" fill="#000"/>
<rect x="1731.7" y="967.7" width="5.6" height="10.0" fill="#000"/>
<rect x="1732.4" y="1088.9" width="4.2" height="8.8" fill="#000"/>
<text transform="translate(1719.89 963.30) scale(1.1170 1)" font-size="31.45" font-family='"Liberation Serif", "Times New Roman", serif' stroke="#000" stroke-width="0.4">##</text>
<text transform="translate(1217.08 796.86) scale(1.0160 1)" font-size="35.14" font-family='"Liberation Sans", Arial, sans-serif'>**</text>
<text transform="translate(1162.47 1124.27) scale(1.0145 1)" font-size="32.71" font-family='"Liberation Serif", "Times New Roman", serif'>C</text>
<text transform="translate(1205.48 1124.27) scale(0.9322 1)" font-size="32.71" font-family='"Liberation Serif", "Times New Roman", serif' letter-spacing="-2.62">GM</text>
<text transform="translate(1279.02 1123.80) scale(0.7772 1)" font-size="32.12" font-family='"Liberation Serif", "Times New Roman", serif'>1</text>
<text transform="translate(1334.05 1123.80) scale(1.0637 1)" font-size="32.00" font-family='"Liberation Serif", "Times New Roman", serif'>2</text>
<text transform="translate(1390.30 1123.80) scale(0.9338 1)" font-size="32.24" font-family='"Liberation Serif", "Times New Roman", serif'>4</text>
<text transform="translate(1423.21 1123.93) scale(0.9228 1)" font-size="31.62" font-family='"Liberation Serif", "Times New Roman", serif'>0.25</text>
<text transform="translate(1490.18 1123.93) scale(0.9414 1)" font-size="31.62" font-family='"Liberation Serif", "Times New Roman", serif'>0.5</text>
<text transform="translate(1559.02 1123.80) scale(0.7772 1)" font-size="32.12" font-family='"Liberation Serif", "Times New Roman", serif'>1</text>
<text transform="translate(1593.52 1123.93) scale(0.9077 1)" font-size="31.62" font-family='"Liberation Serif", "Times New Roman", serif'>0.25</text>
<text transform="translate(1659.13 1123.93) scale(0.9037 1)" font-size="31.62" font-family='"Liberation Serif", "Times New Roman", serif'>0.5</text>
<text transform="translate(1730.22 1123.80) scale(0.7772 1)" font-size="32.12" font-family='"Liberation Serif", "Times New Roman", serif'>1</text>
<rect x="1279.1" y="1144.4" width="487.1" height="6.4" fill="#000"/>
<text transform="translate(1301.26 1185.90) scale(1.0205 1)" font-size="34.00" font-family='"Liberation Serif", "Times New Roman", serif'>SDAPR(mg/mL)+GM(3mg/mL)</text>
<text transform="translate(1489.79 1241.70) scale(1.2373 1)" font-size="28.51" font-family='"Liberation Sans", Arial, sans-serif'>D</text>
<rect x="1801.7" y="811.7" width="50" height="27.2" rx="4" fill="#333333"/>
<text transform="translate(1872.85 836.54) scale(0.9304 1)" font-size="35.84" font-family='"Liberation Serif", "Times New Roman", serif'>SDAPR</text>
<rect x="1801.7" y="862.9" width="50" height="27.2" rx="4" fill="#808080"/>
<text transform="translate(1872.85 887.45) scale(0.9432 1)" font-size="35.39" font-family='"Liberation Serif", "Times New Roman", serif'>SDAP1</text>
<rect x="1801.7" y="914.1" width="50" height="27.2" rx="4" fill="#9f9f9f"/>
<text transform="translate(1872.77 938.75) scale(0.9774 1)" font-size="35.24" font-family='"Liberation Serif", "Times New Roman", serif'>SDAP2</text>
</g>
</svg>
</body></html>
